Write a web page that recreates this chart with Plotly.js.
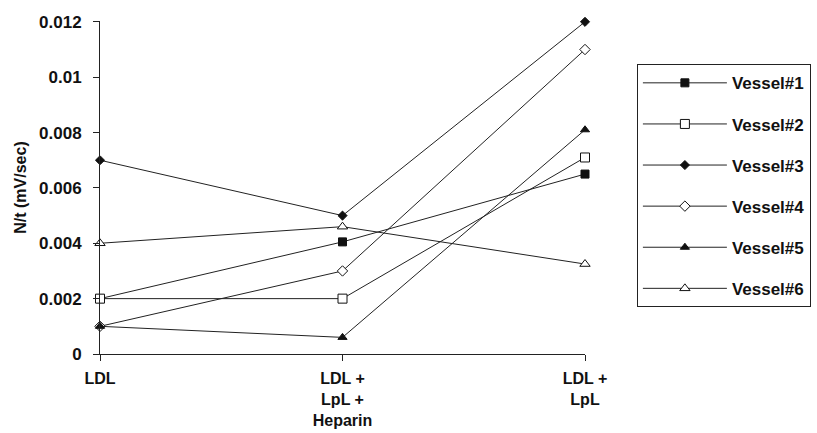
<!DOCTYPE html>
<html><head><meta charset="utf-8">
<script src="https://cdn.plot.ly/plotly-3.0.1.min.js"></script>
<style>body{margin:0;background:#fff}#c{width:817px;height:433px}</style>
</head><body><div id="c"></div>
<script>
const categories = ["LDL", "LDL +<br>LpL +<br>Heparin", "LDL +<br>LpL"];
const seriesNames = ["Vessel#1", "Vessel#2", "Vessel#3", "Vessel#4", "Vessel#5", "Vessel#6"];
const vessel1 = [0.002, 0.00405, 0.0065];
const vessel2 = [0.002, 0.002, 0.0071];
const vessel3 = [0.007, 0.005, 0.012];
const vessel4 = [0.001, 0.003, 0.011];
const vessel5 = [0.001, 0.0006, 0.0081];
const vessel6 = [0.004, 0.0046, 0.00325];
const yTicks = [0, 0.002, 0.004, 0.006, 0.008, 0.01, 0.012];
const yTickText = ["0", "0.002", "0.004", "0.006", "0.008", "0.01", "0.012"];

const seriesValues = [vessel1, vessel2, vessel3, vessel4, vessel5, vessel6];
const symbols = ["square", "square-open", "diamond", "diamond-open", "triangle-up", "triangle-up-open"];
const sizes = [8, 9, 7, 8, 8, 9];
const xIdx = categories.map((_, i) => i);

const traces = seriesValues.map((vals, i) => {
  const open = symbols[i].includes("open");
  return {
    x: xIdx, y: vals, name: "<b>" + seriesNames[i] + "</b>", type: "scatter", mode: "lines+markers",
    legendgroup: "g" + i,
    line: {color: "#222", width: 1},
    marker: {symbol: symbols[i].replace("-open", ""), size: sizes[i], color: open ? "#fff" : "#111",
             line: {color: "#111", width: 1}},
    cliponaxis: false
  };
});

const layout = {
  width: 817, height: 433,
  margin: {l: 100, r: 232, t: 21, b: 79, autoexpand: false},
  paper_bgcolor: "#fff", plot_bgcolor: "#fff",
  showlegend: true,
  font: {family: "Liberation Sans, Arial, sans-serif", size: 17, color: "#111"},
  xaxis: {
    range: [0, 2], tickvals: xIdx, ticktext: categories.map(c => "<b>" + c + "</b>"),
    showgrid: false, zeroline: false, showline: true, linecolor: "#222", linewidth: 1,
    ticks: "outside", ticklen: 6, tickcolor: "#222", tickfont: {size: 16}, ticklabelstandoff: 4
  },
  yaxis: {
    range: [0, 0.01203], tickvals: yTicks, ticktext: yTickText.map(t => "<b>" + t + "</b>"),
    showgrid: false, zeroline: false, showline: true, linecolor: "#222", linewidth: 1,
    ticks: "outside", ticklen: 6, tickcolor: "#222", tickfont: {size: 17}, ticklabelstandoff: 8,
    title: {text: "<b>N/t (mV/sec)</b>", font: {size: 16}, standoff: 8}
  },
  legend: {
    x: 1.107, y: 0.87, xanchor: "left", yanchor: "top",
    bordercolor: "#222", borderwidth: 1, bgcolor: "#fff",
    tracegroupgap: 16, itemwidth: 84, font: {size: 17},
    traceorder: "grouped"
  }
};
Plotly.newPlot("c", traces, layout, {staticPlot: true});
</script></body></html>
